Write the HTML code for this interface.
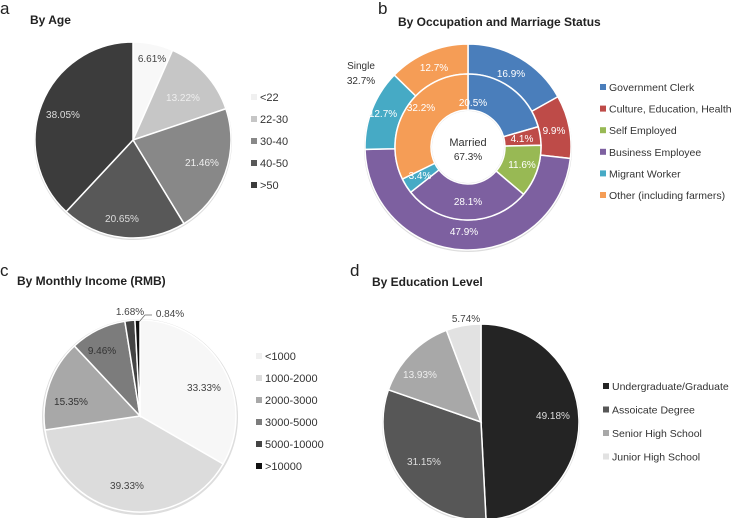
<!DOCTYPE html>
<html><head><meta charset="utf-8"><style>
html,body{margin:0;padding:0;background:#fff}
body{width:753px;height:518px;overflow:hidden;position:relative;font-family:"Liberation Sans",sans-serif}
svg{position:absolute;left:0;top:0}
</style></head><body>
<svg id="s" width="753" height="518" viewBox="0 0 753 518" font-family="Liberation Sans, sans-serif"></svg>
<script>
const s=document.getElementById('s');let h='';
function arc(cx,cy,r0,r1,a0,a1){const f=a=>[Math.sin(a*2*Math.PI),-Math.cos(a*2*Math.PI)];
const [x0,y0]=f(a0),[x1,y1]=f(a1);const L=(a1-a0)>0.5?1:0;
if(r0==0)return `M${cx},${cy}L${cx+r1*x0},${cy+r1*y0}A${r1},${r1} 0 ${L} 1 ${cx+r1*x1},${cy+r1*y1}Z`;
return `M${cx+r1*x0},${cy+r1*y0}A${r1},${r1} 0 ${L} 1 ${cx+r1*x1},${cy+r1*y1}L${cx+r0*x1},${cy+r0*y1}A${r0},${r0} 0 ${L} 0 ${cx+r0*x0},${cy+r0*y0}Z`;}
function pie(cx,cy,r0,r1,vals,cols,sw){let t=vals.reduce((a,b)=>a+b,0),a=0;
vals.forEach((v,i)=>{const b=a+v/t;if(v>0)h+=`<path d="${arc(cx,cy,r0,r1,a,b)}" fill="${cols[i]}" stroke="#fff" stroke-width="${sw||1.5}"/>`;a=b;});}
function T(x,y,t,o){o=o||{};h+=`<text x="${x}" y="${y}" font-size="${o.s||10}" fill="${o.c||'#444'}" text-anchor="${o.a||'middle'}" font-weight="${o.w||'normal'}">${t}</text>`;}
function leg(x,y,dy,items,cols,fs){items.forEach((t,i)=>{h+=`<rect x="${x}" y="${y+i*dy-6}" width="6" height="6" fill="${cols[i]}"/>`;T(x+9,y+i*dy+1,t,{a:'start',s:fs||11,c:'#333'});});}
// a
T(0,14,'a',{a:'start',s:17,c:'#222'});T(30,24,'By Age',{a:'start',s:12,w:'bold',c:'#222'});
h+=`<circle cx="133" cy="141" r="99" fill="#ddd"/>`;
const ca=['#f8f8f8','#c6c6c6','#888888','#585858','#3c3c3c'];
pie(133,140,0,98,[6.61,13.22,21.46,20.65,38.05],ca);
T(152,62,'6.61%');T(183,101,'13.22%',{c:'#eee'});T(202,166,'21.46%',{c:'#eee'});T(122,222,'20.65%',{c:'#ddd'});T(63,118,'38.05%',{c:'#ddd'});
leg(251,100,22,['&lt;22','22-30','30-40','40-50','&gt;50'],['#f0f0f0','#c6c6c6','#888','#585858','#3c3c3c']);
// b
T(378,14,'b',{a:'start',s:17,c:'#222'});T(398,26,'By Occupation  and Marriage Status',{a:'start',s:12,w:'bold',c:'#222'});
const cb=['#4a7ebb','#be4b48','#98b954','#7d60a0','#46aac5','#f59d56'];
h+=`<circle cx="468" cy="148" r="104" fill="#ddd"/>`;
pie(468,147,73,103,[16.9,9.9,0,47.9,12.7,12.7],cb);
pie(468,147,37,73,[20.5,4.1,11.6,28.1,3.4,32.2],cb);
h+=`<circle cx="468" cy="147" r="36" fill="#fff"/>`;
T(361,69,'Single',{c:'#333'});T(361,84,'32.7%',{c:'#333'});T(468,146,'Married',{s:11,c:'#333'});T(468,160,'67.3%',{c:'#333'});
const W={c:'#fff'};
T(511,77,'16.9%',W);T(554,134,'9.9%',W);T(464,235,'47.9%',W);T(383,117,'12.7%',W);T(434,71,'12.7%',W);
T(473,106,'20.5%',W);T(522,142,'4.1%',W);T(522,168,'11.6%',W);T(468,205,'28.1%',W);T(420,179,'3.4%',W);T(421,111,'32.2%',W);
leg(600,90,21.6,['Government Clerk','Culture, Education, Health','Self Employed','Business Employee','Migrant Worker','Other (including farmers)'],cb,10.5);
// c
T(0,276,'c',{a:'start',s:17,c:'#222'});T(17,285,'By Monthly  Income (RMB)',{a:'start',s:12,w:'bold',c:'#222'});
h+=`<circle cx="140" cy="417" r="98" fill="#ddd"/>`;
pie(140,416,0,96,[33.33,39.33,15.35,9.46,1.68,0.84],['#f7f7f7','#dcdcdc','#a8a8a8','#7c7c7c','#444','#111']);
h+=`<polyline points="139,322 145,315 152,315" fill="none" stroke="#666" stroke-width="0.7"/>`;
T(130,315,'1.68%');T(170,317,'0.84%');T(102,354,'9.46%',{c:'#333'});T(204,391,'33.33%');T(71,405,'15.35%',{c:'#333'});T(127,489,'39.33%');
leg(256,359,22,['&lt;1000','1000-2000','2000-3000','3000-5000','5000-10000','&gt;10000'],['#f0f0f0','#dcdcdc','#a8a8a8','#7c7c7c','#444','#111']);
// d
T(350,276,'d',{a:'start',s:17,c:'#222'});T(372,286,'By Education Level',{a:'start',s:12,w:'bold',c:'#222'});
h+=`<circle cx="481" cy="423" r="99" fill="#ddd"/>`;
pie(481,422,0,98,[49.18,31.15,13.93,5.74],['#242424','#575757','#a8a8a8','#e2e2e2']);
T(466,322,'5.74%');T(420,378,'13.93%',{c:'#eee'});T(553,419,'49.18%',{c:'#ddd'});T(424,465,'31.15%',{c:'#ddd'});
leg(603,389,23.5,['Undergraduate/Graduate','Assoicate Degree','Senior High School','Junior High School'],['#242424','#575757','#a8a8a8','#e2e2e2'],10.5);
s.innerHTML=h;
</script>
</body></html>
